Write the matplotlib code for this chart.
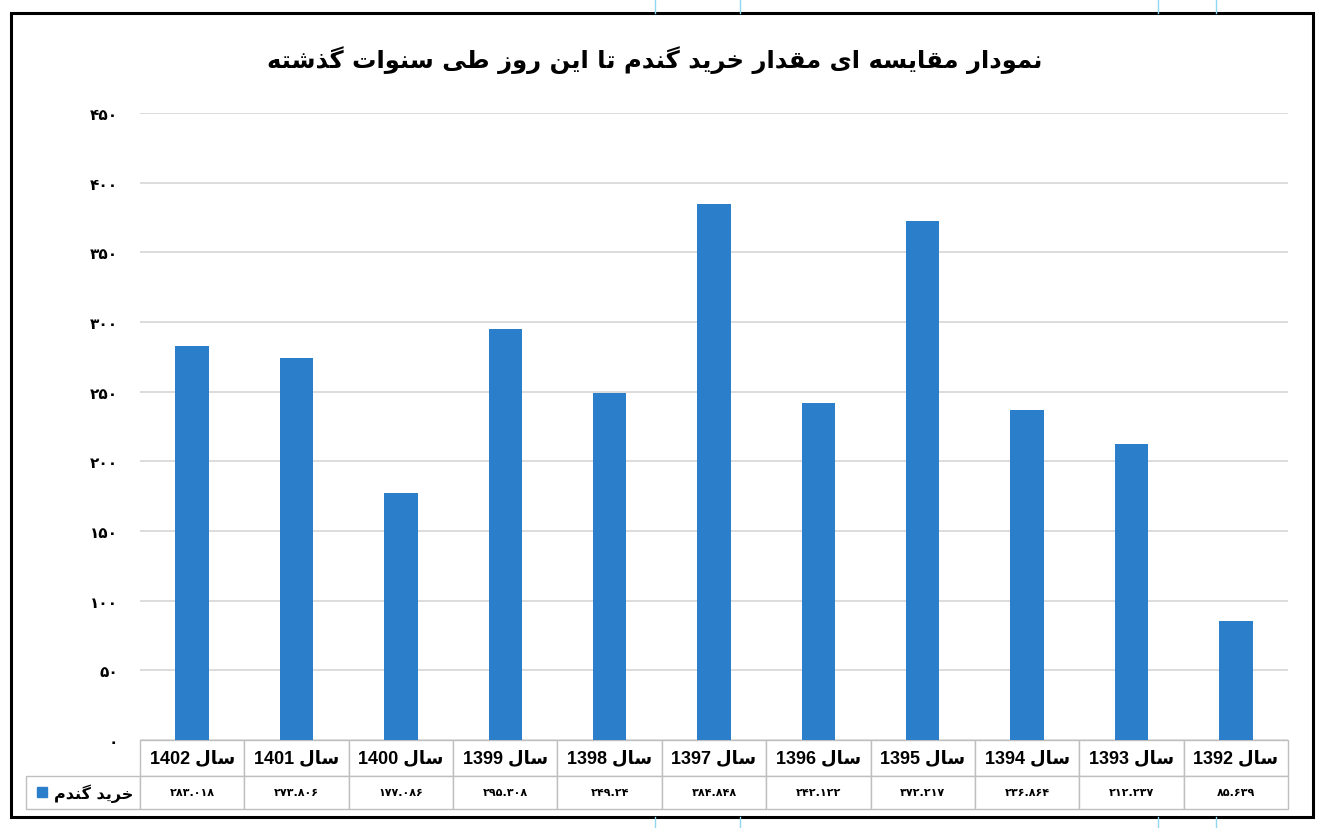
import matplotlib
matplotlib.use("Agg")
import matplotlib.pyplot as plt
from matplotlib.table import Table
from matplotlib.patches import Rectangle
from matplotlib.lines import Line2D

# data
years = ["1402", "1401", "1400", "1399", "1398", "1397", "1396", "1395", "1394", "1393", "1392"]
purchase = [283.018, 273.806, 177.086, 295.308, 249.24, 384.848, 242.122, 372.217, 236.864, 212.237, 85.639]
yticks = [0, 50, 100, 150, 200, 250, 300, 350, 400, 450]
title = "نمودار مقایسه ای مقدار خرید گندم تا این روز طی سنوات گذشته"
series_name = "خرید گندم"
year_prefix = "سال"

BAR = "#2b7fca"

# matplotlib has no arabic shaping, so map letters to presentation forms by hand
FORMS = {
    'ا': ('\uFE8D', '\uFE8E', None, None),
    'ت': ('\uFE95', '\uFE96', '\uFE97', '\uFE98'),
    'خ': ('\uFEA5', '\uFEA6', '\uFEA7', '\uFEA8'),
    'د': ('\uFEA9', '\uFEAA', None, None),
    'ذ': ('\uFEAB', '\uFEAC', None, None),
    'ر': ('\uFEAD', '\uFEAE', None, None),
    'ز': ('\uFEAF', '\uFEB0', None, None),
    'س': ('\uFEB1', '\uFEB2', '\uFEB3', '\uFEB4'),
    'ش': ('\uFEB5', '\uFEB6', '\uFEB7', '\uFEB8'),
    'ط': ('\uFEC1', '\uFEC2', '\uFEC3', '\uFEC4'),
    'ق': ('\uFED5', '\uFED6', '\uFED7', '\uFED8'),
    'ل': ('\uFEDD', '\uFEDE', '\uFEDF', '\uFEE0'),
    'م': ('\uFEE1', '\uFEE2', '\uFEE3', '\uFEE4'),
    'ن': ('\uFEE5', '\uFEE6', '\uFEE7', '\uFEE8'),
    'ه': ('\uFEE9', '\uFEEA', '\uFEEB', '\uFEEC'),
    'و': ('\uFEED', '\uFEEE', None, None),
    'ی': ('\uFBFC', '\uFBFD', '\uFBFE', '\uFBFF'),
    'گ': ('\uFB92', '\uFB93', '\uFB94', '\uFB95'),
}
RIGHT_ONLY = set('اآدذرزژو')


def shape_word(w):
    out = []
    for i, c in enumerate(w):
        if c not in FORMS:
            out.append(c)
            continue
        prev = w[i - 1] if i > 0 else ''
        nxt = w[i + 1] if i + 1 < len(w) else ''
        jp = prev in FORMS and prev not in RIGHT_ONLY
        jn = nxt in FORMS and c not in RIGHT_ONLY
        iso, fin, ini, med = FORMS[c]
        if jp and jn:
            out.append(med)
        elif jp:
            out.append(fin)
        elif jn:
            out.append(ini)
        else:
            out.append(iso)
    return ''.join(out)


def fa(text):
    vis = []
    for w in text.split(' '):
        if any(ch in FORMS for ch in w):
            vis.append(shape_word(w)[::-1])
        else:
            vis.append(w)
    return ' '.join(vis[::-1])


def fa_digits(s):
    return s.translate(str.maketrans('0123456789', '۰۱۲۳۴۵۶۷۸۹'))


plt.rcParams['font.family'] = ['DejaVu Sans']

W, H = 1324, 829
fig = plt.figure(figsize=(W / 100, H / 100), dpi=100)
ax = fig.add_axes([140 / W, 88 / H, 1148 / W, 627 / H])

x = list(range(len(years)))
ax.bar(x, purchase, width=0.32, color=BAR, zorder=3)
ax.set_xlim(-0.5, len(years) - 0.5)
ax.set_ylim(0, 450)
ax.set_yticks(yticks)
ax.set_yticklabels([fa_digits(str(t)) for t in yticks], fontsize=11, fontweight='bold')
ax.tick_params(axis='y', length=0, pad=16)
ax.set_xticks([])
ax.grid(axis='y', color='#d9d9d9', linewidth=1.3, zorder=0)
for s in ax.spines.values():
    s.set_visible(False)

# data table under the bars; bbox covers only the data cells
tb = Table(ax, bbox=[0, -69 / 627, 1, 69 / 627])
cw = 1 / len(years)
lw = 114 / 1148
h_head, h_val = 36 / 627, 33 / 627
for j, yr in enumerate(years):
    c = tb.add_cell(0, j, cw, h_head, text=fa(year_prefix + " " + yr), loc='center')
    c.set_edgecolor('#bfbfbf')
    c.set_linewidth(1)
    c.set_text_props(fontsize=13, fontweight='bold',
                     family=['Liberation Sans', 'DejaVu Sans'])
    v = tb.add_cell(1, j, cw, h_val, text=fa_digits(str(purchase[j])), loc='center')
    v.set_edgecolor('#bfbfbf')
    v.set_linewidth(1)
    v.set_text_props(fontsize=8, fontweight='bold')
lab = tb.add_cell(1, -1, lw, h_val, text=fa(series_name), loc='right')
lab.set_edgecolor('#bfbfbf')
lab.set_linewidth(1)
lab.PAD = 0.06
lab.set_text_props(fontsize=11.5, fontweight='bold')
tb.auto_set_font_size(False)
ax.add_table(tb)

# legend key square inside the row label cell
fig.patches.append(Rectangle((37 / W, (H - 798) / H), 10 / W, 10 / H,
                             transform=fig.transFigure, color=BAR))

fig.text(655 / W, (H - 60) / H, fa(title), ha='center', va='center',
         fontsize=17.5, fontweight='bold')

# outer frame and crop marks of the scanned page
fig.patches.append(Rectangle((11 / W, (H - 818) / H), 1302 / W, 804 / H,
                             transform=fig.transFigure, fill=False,
                             edgecolor='black', linewidth=2.2))
for px in [655, 740, 1158, 1216]:
    fig.lines.append(Line2D([px / W, px / W], [(H - 14) / H, 1], transform=fig.transFigure,
                            color='#8fd6ef', linewidth=1))
    fig.lines.append(Line2D([px / W, px / W], [0, (H - 818) / H], transform=fig.transFigure,
                            color='#8fd6ef', linewidth=1))

fig.savefig("out.png", dpi=100)
